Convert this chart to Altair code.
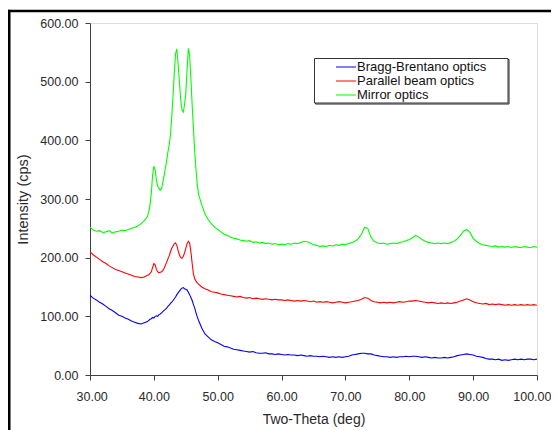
import altair as alt
import pandas as pd

series_names = ["Bragg-Brentano optics", "Parallel beam optics", "Mirror optics"]
series_colors = ["#0000FF", "#FF0000", "#00FF00"]

two_theta = [
    30.0, 30.5, 31.0, 31.5, 32.0, 32.5, 33.0, 33.5, 34.0, 34.5, 35.0, 35.5, 36.0, 36.5, 37.0, 37.5, 38.0, 38.5, 39.0,
    39.2, 39.4, 39.6, 39.8, 40.0, 40.2, 40.4, 40.6, 40.8, 41.0, 41.2, 41.4, 41.6, 41.8, 42.0, 42.2, 42.4, 42.6, 42.8, 43.0,
    43.2, 43.4, 43.6, 43.8, 44.0, 44.2, 44.4, 44.6, 44.8, 45.0, 45.2, 45.4, 45.6, 45.8, 46.0, 46.2, 46.4, 46.6, 46.8, 47.0,
    47.5, 48.0, 48.5, 49.0, 49.5, 50.0, 50.5, 51.0, 51.5, 52.0, 52.5, 53.0, 53.5, 54.0, 54.5, 55.0, 55.5, 56.0, 56.5, 57.0,
    57.5, 58.0, 58.5, 59.0, 59.5, 60.0, 60.5, 61.0, 61.5, 62.0, 62.5, 63.0, 63.5, 64.0, 64.5, 65.0, 65.5, 66.0, 66.5, 67.0,
    67.5, 68.0, 68.5, 69.0, 69.5, 70.0, 70.5, 71.0, 71.5, 72.0, 72.5, 73.0, 73.5, 74.0, 74.5, 75.0, 75.5, 76.0, 76.5, 77.0,
    77.5, 78.0, 78.5, 79.0, 79.5, 80.0, 80.5, 81.0, 81.5, 82.0, 82.5, 83.0, 83.5, 84.0, 84.5, 85.0, 85.5, 86.0, 86.5, 87.0,
    87.5, 88.0, 88.5, 89.0, 89.5, 90.0, 90.5, 91.0, 91.5, 92.0, 92.5, 93.0, 93.5, 94.0, 94.5, 95.0, 95.5, 96.0, 96.5, 97.0,
    97.5, 98.0, 98.5, 99.0, 99.5, 100.0,
]

bragg_brentano = [
    136, 131, 128, 124, 121, 117, 113, 110, 106, 102, 100, 97, 95, 92, 90, 88, 87, 89, 91,
    93, 95, 96, 98, 97, 100, 101, 100, 103, 104, 106, 108, 110, 112, 114, 117, 119, 122, 124, 127,
    130, 133, 137, 140, 143, 146, 148, 149, 147, 146, 145, 141, 137, 132, 127, 120, 114, 106, 99, 93,
    80, 70, 65, 60, 57, 55, 52, 49, 48, 46, 44, 43, 42, 41, 40, 39, 40, 38, 37, 37,
    38, 36, 36, 35, 36, 35, 34, 35, 34, 34, 33, 34, 33, 32, 33, 32, 32, 31, 32, 31,
    30, 31, 30, 31, 30, 31, 32, 34, 35, 36, 37, 37, 36, 36, 34, 33, 32, 31, 31, 30,
    31, 30, 31, 31, 32, 31, 32, 32, 31, 30, 31, 30, 29, 30, 29, 29, 30, 29, 30, 31,
    33, 34, 35, 36, 35, 34, 32, 31, 30, 28, 27, 27, 26, 27, 25, 26, 25, 26, 27, 26,
    27, 26, 27, 27, 26, 27,
]

parallel_beam = [
    210, 205, 201, 197, 193, 190, 186, 183, 180, 178, 176, 174, 172, 170, 168, 167, 166, 167, 170,
    171, 173, 176, 183, 190, 188, 180, 176, 174, 175, 176, 178, 182, 187, 192, 198, 203, 210, 216, 220,
    224, 225, 221, 212, 205, 200, 199, 202, 208, 216, 224, 228, 225, 210, 190, 172, 164, 160, 157, 155,
    150, 147, 145, 142, 141, 140, 138, 137, 136, 135, 134, 133, 134, 132, 131, 132, 130, 131, 130, 129,
    130, 129, 128, 129, 128, 128, 127, 128, 127, 126, 127, 126, 127, 126, 125, 126, 124, 125, 124, 125,
    124, 123, 124, 125, 124, 123, 124, 125, 126, 127, 129, 132, 131, 127, 125, 124, 123, 124, 123, 124,
    123, 124, 125, 124, 125, 126, 126, 127, 126, 125, 124, 123, 124, 123, 122, 123, 122, 123, 122, 123,
    124, 126, 128, 130, 128, 125, 123, 122, 121, 122, 120, 121, 120, 121, 120, 119, 120, 119, 120, 119,
    120, 119, 120, 119, 120, 119,
]

mirror = [
    252, 247, 245, 246, 243, 244, 246, 242, 244, 245, 247, 246, 248, 250, 252, 254, 258, 263, 270,
    278, 290, 310, 340, 356, 350, 332, 322, 318, 315, 318, 328, 340, 352, 365, 380, 392, 410, 440, 475,
    515, 548, 556, 530, 500, 470, 452, 448, 460, 480, 520, 557, 545, 505, 460, 420, 380, 350, 325, 308,
    290, 275, 265, 258, 252, 248, 244, 240, 238, 235, 233, 232, 230, 229, 228, 229, 226, 227, 225, 226,
    224, 225, 223, 224, 222, 223, 222, 224, 223, 225, 224, 226, 228, 227, 225, 222, 221, 219, 220, 219,
    221, 220, 222, 221, 223, 222, 224, 226, 228, 232, 240, 252, 250, 235, 228, 225, 224, 225, 223, 224,
    225, 224, 226, 227, 229, 231, 234, 238, 235, 231, 228, 226, 225, 224, 225, 224, 225, 224, 226, 228,
    232, 238, 245, 248, 243, 233, 228, 224, 222, 221, 220, 219, 220, 218, 219, 218, 219, 217, 219, 218,
    217, 219, 218, 217, 219, 218,
]

assert len(two_theta) == len(bragg_brentano) == len(parallel_beam) == len(mirror), (
    len(two_theta), len(bragg_brentano), len(parallel_beam), len(mirror))

rows = []
for name, vals in zip(series_names, [bragg_brentano, parallel_beam, mirror]):
    for i, (x, y) in enumerate(zip(two_theta, vals)):
        rows.append({"theta": x, "intensity": y, "series": name, "order": i})
df = pd.DataFrame(rows)

x_ticks = [30, 40, 50, 60, 70, 80, 90, 100]
y_ticks = [0, 100, 200, 300, 400, 500, 600]

FONT = "Liberation Sans"
AX = "#404040"
TXT = "#2a2a2a"

lines = alt.Chart(df).mark_line(strokeWidth=1.1, clip=True).encode(
    x=alt.X("theta:Q", scale=alt.Scale(domain=[30, 100], nice=False),
            axis=alt.Axis(title="Two-Theta (deg)", values=x_ticks, format=".2f", grid=False,
                          domainColor=AX, tickColor=AX, tickSize=5, labelPadding=10,
                          labelColor=TXT, labelFontSize=12.5, labelFont=FONT,
                          labelFlush=True, labelFlushOffset=14,
                          titleFont=FONT, titleFontSize=14, titleFontWeight="normal",
                          titleColor=TXT, titlePadding=10)),
    y=alt.Y("intensity:Q", scale=alt.Scale(domain=[0, 600], nice=False),
            axis=alt.Axis(title="Intensity (cps)", values=y_ticks, format=".2f", grid=False,
                          domainColor=AX, tickColor=AX, tickSize=5, labelPadding=7,
                          labelColor=TXT, labelFontSize=12.5, labelFont=FONT, labelFlush=False,
                          titleFont=FONT, titleFontSize=14.5, titleFontWeight="normal",
                          titleColor=TXT, titlePadding=9)),
    color=alt.Color("series:N", sort=series_names,
                    scale=alt.Scale(domain=series_names, range=series_colors),
                    legend=alt.Legend(title=None, orient="none", legendX=242, legendY=35,
                                      padding=3, symbolType="stroke", symbolSize=400,
                                      clipHeight=12, symbolStrokeWidth=1.2, labelFont=FONT,
                                      labelFontSize=13, labelColor="#111111", rowPadding=1,
                                      labelOffset=0)),
    order="order:Q",
)

one = alt.Data(values=[{"k": 1}])

legend_shadow = alt.Chart(one).mark_rect(fillOpacity=0, stroke="#222222", strokeWidth=1).encode(
    x=alt.value(225.5), x2=alt.value(419), y=alt.value(36.5), y2=alt.value(81)
)
legend_box = alt.Chart(one).mark_rect(fill="white", stroke="#333333", strokeWidth=1).encode(
    x=alt.value(224.5), x2=alt.value(418), y=alt.value(35.5), y2=alt.value(80)
)

border_left = alt.Chart(one).mark_rule(color="black", strokeWidth=2.5).encode(
    x=alt.value(-80.75), y=alt.value(-13.25), y2=alt.value(420)
)
border_top = alt.Chart(one).mark_rule(color="black", strokeWidth=2.5).encode(
    x=alt.value(-82), x2=alt.value(461), y=alt.value(-12)
)

chart = alt.layer(legend_shadow, legend_box, lines, border_left, border_top).properties(
    width=447, height=352,
    autosize=alt.AutoSizeParams(type="none"),
    padding={"left": 82, "top": 15, "right": 14, "bottom": 55},
).configure_view(stroke=None).configure(background="white")

chart.save("out.html", embed_options={"renderer": "svg", "actions": False})
